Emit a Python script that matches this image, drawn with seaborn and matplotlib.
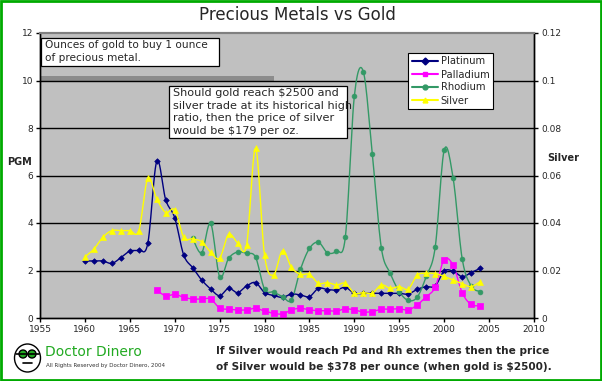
import numpy as np
import pandas as pd
import matplotlib
matplotlib.use("Agg")
import matplotlib.pyplot as plt
from matplotlib.lines import Line2D
from matplotlib.patches import Rectangle, Ellipse
import seaborn as sns

# ---------------- data ----------------
pt_years = list(range(1960, 2005))
platinum = [2.40, 2.40, 2.40, 2.30, 2.54, 2.82, 2.86, 3.14, 6.60, 4.97,
            4.22, 2.65, 2.12, 1.60, 1.22, 0.94, 1.25, 1.07, 1.35, 1.49,
            1.07, 0.95, 0.87, 1.01, 0.97, 0.90, 1.25, 1.20, 1.18, 1.29,
            1.04, 1.04, 1.04, 1.04, 1.04, 1.04, 1.01, 1.21, 1.32, 1.35,
            1.98, 1.97, 1.74, 1.91, 2.09]

pd_years = list(range(1968, 2005))
palladium = [1.18, 0.93, 1.00, 0.87, 0.80, 0.80, 0.80, 0.42, 0.37, 0.34,
             0.34, 0.41, 0.29, 0.20, 0.17, 0.34, 0.41, 0.34, 0.31, 0.31,
             0.29, 0.39, 0.34, 0.25, 0.27, 0.37, 0.37, 0.39, 0.34, 0.55,
             0.90, 1.29, 2.46, 2.22, 1.07, 0.57, 0.52]

rh_years = list(range(1972, 2005))
rhodium = [3.35, 2.75, 3.98, 1.74, 2.51, 2.78, 2.72, 2.56, 1.21, 1.09,
           0.90, 0.76, 2.05, 2.93, 3.19, 2.75, 2.82, 3.42, 9.35, 10.37,
           6.89, 2.96, 1.88, 1.11, 0.74, 0.88, 1.75, 2.98, 7.07, 5.88,
           2.50, 1.35, 1.11]

ag_years = list(range(1960, 2005))
silver = [0.0258, 0.0290, 0.0340, 0.0368, 0.0368, 0.0368, 0.0368, 0.0588, 0.0501, 0.0444,
          0.0455, 0.0340, 0.0333, 0.0321, 0.0277, 0.0252, 0.0352, 0.0317, 0.0307, 0.0714,
          0.0264, 0.0181, 0.0284, 0.0213, 0.0184, 0.0184, 0.0146, 0.0149, 0.0139, 0.0146,
          0.0104, 0.0107, 0.0104, 0.0139, 0.0125, 0.0132, 0.0122, 0.0181, 0.0188, 0.0187,
          0.0175, 0.0160, 0.0145, 0.0132, 0.0153]

left_ticks = [0, 2, 4, 6, 8, 10, 12]
right_ticks = [0, 0.02, 0.04, 0.06, 0.08, 0.1, 0.12]
right_labels = ["0", "0.02", "0.04", "0.06", "0.08", "0.1", "0.12"]
x_ticks = list(range(1955, 2011, 5))

W, H = 602, 381


def fx(px):
    return px / W


def fy(py):
    return 1 - py / H


def smooth(x, y, n=12):
    """Catmull-Rom style smoothing (like Excel smoothed lines) for drawing."""
    x = np.asarray(x, float)
    y = np.asarray(y, float)
    P = np.column_stack([x, y])
    ext = np.vstack([P[0], P, P[-1]])
    out = []
    for i in range(1, len(ext) - 2):
        p0, p1, p2, p3 = ext[i - 1], ext[i], ext[i + 1], ext[i + 2]
        c1 = p1 + (p2 - p0) / 6.0
        c2 = p2 - (p3 - p1) / 6.0
        t = np.linspace(0, 1, n, endpoint=False)[:, None]
        pts = ((1 - t) ** 3) * p1 + 3 * ((1 - t) ** 2) * t * c1 + 3 * (1 - t) * t ** 2 * c2 + t ** 3 * p2
        out.append(pts)
    out.append(P[-1][None, :])
    out = np.vstack(out)
    return out[:, 0], out[:, 1]


sns.set_style("white")
plt.rcParams["font.family"] = ["DejaVu Sans"]

fig = plt.figure(figsize=(W / 100, H / 100), dpi=100)
fig.patch.set_facecolor("white")

L, R, T, B = 40, 534, 33, 318
ax = fig.add_axes([fx(L), fy(B), fx(R) - fx(L), fy(T) - fy(B)])
ax.set_facecolor("#c0c0c0")
ax2 = ax.twinx()

series = [
    ("Platinum", pt_years, platinum, "#000080", "D", 8, ax),
    ("Palladium", pd_years, palladium, "#ff00ff", "s", 22, ax),
    ("Rhodium", rh_years, rhodium, "#339966", "o", 12, ax),
    ("Silver", ag_years, silver, "#ffff00", "^", 18, ax2),
]

# grid lines
for v in [2, 4, 6, 8, 10]:
    ax.axhline(v, color="black", lw=1.0, zorder=0.5)
ax.axhspan(10.0, 10.2, xmin=0, xmax=(274 - L) / (R - L), color="#8c8c8c", lw=0, zorder=0.4)

handles = []
for name, xs, ys, col, mk, s, a in series:
    sx, sy = smooth(xs, ys)
    sdf = pd.DataFrame({"x": sx, "y": sy})
    sns.lineplot(data=sdf, x="x", y="y", ax=a, color=col, lw=1.0, sort=False,
                 estimator=None, zorder=2)
    df = pd.DataFrame({"year": xs, "val": ys})
    sns.scatterplot(data=df, x="year", y="val", ax=a, color=col, marker=mk, s=s,
                    edgecolor=col, linewidth=0.5, zorder=3)
    handles.append(Line2D([0], [0], color=col, lw=1.5, marker=mk, markersize=3.5,
                          markeredgecolor=col, label=name))

ax.set_xlim(1955, 2010)
ax.set_ylim(0, 12)
ax2.set_ylim(0, 0.12)
ax.set_xticks(x_ticks)
ax.set_xticklabels([str(t) for t in x_ticks])
ax.set_yticks(left_ticks)
ax.set_yticklabels([str(t) for t in left_ticks])
ax2.set_yticks(right_ticks)
ax2.set_yticklabels(right_labels)
ax.set_xlabel("")
ax.set_ylabel("")
ax2.set_ylabel("")

for a in (ax, ax2):
    a.tick_params(axis="both", which="major", labelsize=6.5, length=3, width=1,
                  color="black", pad=2, direction="out")
ax.tick_params(axis="x", bottom=True)
ax.tick_params(axis="y", left=True)
ax2.tick_params(axis="y", right=True)

for a in (ax, ax2):
    for sp in ["left", "right", "bottom"]:
        a.spines[sp].set_color("black")
        a.spines[sp].set_linewidth(1.0)
        a.spines[sp].set_visible(True)
    a.spines["top"].set_color("#808080")
    a.spines["top"].set_linewidth(1.5)
    a.spines["top"].set_visible(True)

ax.grid(False)
ax2.grid(False)

# axis titles
fig.text(fx(20), fy(162), "PGM", fontsize=7, fontweight="bold", ha="center", va="center")
fig.text(fx(563), fy(158), "Silver", fontsize=7, fontweight="bold", ha="center", va="center")

# title
fig.text(fx(297), fy(15), "Precious Metals vs Gold", fontsize=12, ha="center", va="center")

# legend
leg = fig.legend(handles=handles, loc="upper left", bbox_to_anchor=(fx(408), fy(53)),
                 bbox_transform=fig.transFigure, fontsize=7.2, frameon=True, fancybox=False,
                 edgecolor="black", framealpha=1, borderpad=0.35, labelspacing=0.3,
                 handlelength=2.6, handletextpad=0.3, borderaxespad=0)
leg.get_frame().set_linewidth(0.8)


# annotation boxes (explicit frames)
def frame(x0, y0, x1, y1):
    fig.add_artist(Rectangle((fx(x0), fy(y1)), fx(x1) - fx(x0), fy(y0) - fy(y1),
                             transform=fig.transFigure, facecolor="white",
                             edgecolor="black", lw=0.9, zorder=5))


frame(41, 38, 219, 66)
for i, line in enumerate(["Ounces of gold to buy 1 ounce", "of precious metal."]):
    fig.text(fx(45), fy(45 + 13 * i), line, fontsize=7.6, ha="left", va="center", zorder=6)

frame(169, 86, 347, 138)
box2_lines = ["Should gold reach \\$2500 and", "silver trade at its historical high",
              "ratio, then the price of silver", "would be \\$179 per oz."]
for i, line in enumerate(box2_lines):
    fig.text(fx(173), fy(93 + 12.7 * i), line, fontsize=8.1, ha="left", va="center", zorder=6)

# bottom texts
fig.text(fx(216), fy(351), "If Silver would reach Pd and Rh extremes then the price",
         fontsize=7.6, fontweight="bold", ha="left", va="center")
fig.text(fx(216), fy(367), "of Silver would be \\$378 per ounce (when gold is \\$2500).",
         fontsize=7.6, fontweight="bold", ha="left", va="center")
fig.text(fx(45), fy(352), "Doctor Dinero", fontsize=10, color="#22aa22", ha="left", va="center")
fig.text(fx(46), fy(365), "All Rights Reserved by Doctor Dinero, 2004", fontsize=4,
         color="#333333", ha="left", va="center")

# logo
fig.add_artist(Ellipse((fx(27.5), fy(358)), 26 / W, 28 / H, transform=fig.transFigure,
                       facecolor="white", edgecolor="black", lw=1.0))
fig.add_artist(Line2D([fx(16), fx(39)], [fy(354), fy(354)], transform=fig.transFigure,
                      color="black", lw=1.2))
for cx in (23, 32):
    fig.add_artist(Ellipse((fx(cx), fy(354)), 8 / W, 8 / H, transform=fig.transFigure,
                           facecolor="#22aa22", edgecolor="black", lw=1.0))
fig.add_artist(Line2D([fx(23), fx(32)], [fy(363), fy(363)], transform=fig.transFigure,
                      color="black", lw=1.2))

# green border
fig.add_artist(Rectangle((0.0015, 0.0025), 0.997, 0.995, transform=fig.transFigure,
                         fill=False, edgecolor="#00aa00", lw=2))

fig.savefig("out.png", dpi=100)
